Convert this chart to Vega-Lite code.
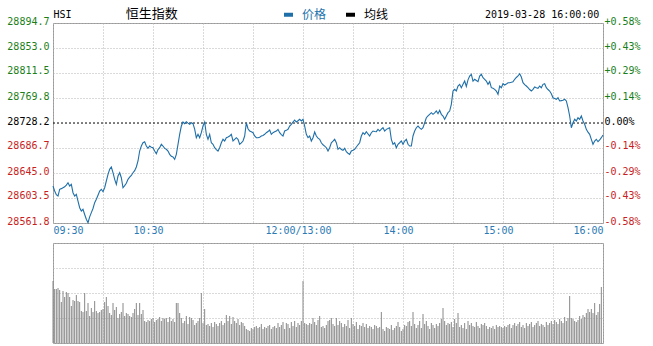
{
"$schema": "https://vega.github.io/schema/vega-lite/v6.json",
"background": "white",
"padding": {"left": 6, "top": 6, "right": 8, "bottom": 4},
"bounds": "flush",
"spacing": 20,
"config": {
  "font": "DejaVu Sans Mono",
  "view": {"stroke": "#999999", "strokeWidth": 1},
  "axis": {"gridColor": "#b4b4b4", "gridDash": [1, 2], "gridWidth": 1, "ticks": false, "domain": false, "labelFont": "DejaVu Sans Mono", "labelFontSize": 10}
},
"datasets": {"d": [
{"t":0,"p":28623.4,"v":62},{"t":1,"p":28615.0,"v":54},{"t":2,"p":28609.0,"v":54},{"t":3,"p":28606.7,"v":55},{"t":4,"p":28617.9,"v":53},{"t":5,"p":28619.0,"v":41},{"t":6,"p":28620.5,"v":52},{"t":7,"p":28622.0,"v":46},{"t":8,"p":28625.0,"v":51},{"t":9,"p":28628.9,"v":50},
{"t":10,"p":28623.4,"v":46},{"t":11,"p":28626.2,"v":37},{"t":12,"p":28612.2,"v":43},{"t":13,"p":28606.7,"v":42},{"t":14,"p":28609.5,"v":48},{"t":15,"p":28598.4,"v":42},{"t":16,"p":28587.2,"v":41},{"t":17,"p":28581.8,"v":32},{"t":18,"p":28584.6,"v":31},{"t":19,"p":28576.0,"v":50},
{"t":20,"p":28568.0,"v":32},{"t":21,"p":28562.3,"v":40},{"t":22,"p":28572.0,"v":27},{"t":23,"p":28579.0,"v":35},{"t":24,"p":28586.0,"v":31},{"t":25,"p":28595.6,"v":42},{"t":26,"p":28601.2,"v":32},{"t":27,"p":28608.0,"v":30},{"t":28,"p":28615.0,"v":31},{"t":29,"p":28617.9,"v":33},
{"t":30,"p":28613.9,"v":34},{"t":31,"p":28620.5,"v":41},{"t":32,"p":28631.7,"v":46},{"t":33,"p":28642.8,"v":37},{"t":34,"p":28651.2,"v":30},{"t":35,"p":28655.0,"v":28},{"t":36,"p":28645.5,"v":40},{"t":37,"p":28634.5,"v":33},{"t":38,"p":28626.2,"v":36},{"t":39,"p":28640.0,"v":25},
{"t":40,"p":28645.5,"v":29},{"t":41,"p":28637.2,"v":31},{"t":42,"p":28620.5,"v":40},{"t":43,"p":28624.0,"v":27},{"t":44,"p":28628.0,"v":30},{"t":45,"p":28634.5,"v":29},{"t":46,"p":28638.0,"v":27},{"t":47,"p":28641.0,"v":26},{"t":48,"p":28645.5,"v":30},{"t":49,"p":28649.0,"v":34},
{"t":50,"p":28655.0,"v":40},{"t":51,"p":28665.0,"v":28},{"t":52,"p":28681.6,"v":40},{"t":53,"p":28690.0,"v":29},{"t":54,"p":28695.4,"v":33},{"t":55,"p":28697.1,"v":22},{"t":56,"p":28689.9,"v":21},{"t":57,"p":28686.1,"v":23},{"t":58,"p":28689.9,"v":22},{"t":59,"p":28688.0,"v":24},
{"t":60,"p":28687.1,"v":25},{"t":61,"p":28681.6,"v":21},{"t":62,"p":28677.1,"v":23},{"t":63,"p":28684.0,"v":24},{"t":64,"p":28687.1,"v":26},{"t":65,"p":28692.8,"v":22},{"t":66,"p":28689.9,"v":25},{"t":67,"p":28686.0,"v":24},{"t":68,"p":28684.5,"v":25},{"t":69,"p":28681.6,"v":21},
{"t":70,"p":28676.1,"v":26},{"t":71,"p":28673.0,"v":22},{"t":72,"p":28671.6,"v":24},{"t":73,"p":28667.8,"v":21},{"t":74,"p":28676.1,"v":40},{"t":75,"p":28692.8,"v":40},{"t":76,"p":28709.4,"v":30},{"t":77,"p":28723.2,"v":25},{"t":78,"p":28729.9,"v":20},{"t":79,"p":28727.1,"v":22},
{"t":80,"p":28730.4,"v":27},{"t":81,"p":28728.0,"v":19},{"t":82,"p":28726.1,"v":26},{"t":83,"p":28728.7,"v":25},{"t":84,"p":28727.1,"v":23},{"t":85,"p":28718.2,"v":18},{"t":86,"p":28703.8,"v":20},{"t":87,"p":28709.4,"v":22},{"t":88,"p":28703.8,"v":25},{"t":89,"p":28712.1,"v":50},
{"t":90,"p":28723.2,"v":20},{"t":91,"p":28729.9,"v":34},{"t":92,"p":28709.4,"v":18},{"t":93,"p":28701.1,"v":19},{"t":94,"p":28709.4,"v":17},{"t":95,"p":28695.4,"v":20},{"t":96,"p":28692.8,"v":16},{"t":97,"p":28687.1,"v":21},{"t":98,"p":28684.0,"v":19},{"t":99,"p":28681.6,"v":17},
{"t":100,"p":28687.1,"v":20},{"t":101,"p":28695.4,"v":22},{"t":102,"p":28701.1,"v":18},{"t":103,"p":28698.3,"v":20},{"t":104,"p":28703.8,"v":28},{"t":105,"p":28705.0,"v":22},{"t":106,"p":28706.6,"v":27},{"t":107,"p":28709.4,"v":19},{"t":108,"p":28698.3,"v":26},{"t":109,"p":28701.0,"v":22},
{"t":110,"p":28703.8,"v":20},{"t":111,"p":28701.1,"v":24},{"t":112,"p":28692.8,"v":18},{"t":113,"p":28695.0,"v":21},{"t":114,"p":28698.3,"v":20},{"t":115,"p":28706.6,"v":17},{"t":116,"p":28728.7,"v":14},{"t":117,"p":28718.7,"v":13},{"t":118,"p":28714.9,"v":12},{"t":119,"p":28713.5,"v":15},
{"t":120,"p":28712.1,"v":14},{"t":121,"p":28706.6,"v":16},{"t":122,"p":28703.8,"v":17},{"t":123,"p":28703.8,"v":15},{"t":124,"p":28704.5,"v":16},{"t":125,"p":28706.6,"v":19},{"t":126,"p":28707.5,"v":14},{"t":127,"p":28709.4,"v":16},{"t":128,"p":28712.1,"v":15},{"t":129,"p":28714.0,"v":17},
{"t":130,"p":28716.6,"v":18},{"t":131,"p":28709.4,"v":14},{"t":132,"p":28712.1,"v":16},{"t":133,"p":28713.5,"v":17},{"t":134,"p":28714.9,"v":15},{"t":135,"p":28717.7,"v":20},{"t":136,"p":28712.1,"v":16},{"t":137,"p":28709.0,"v":18},{"t":138,"p":28706.6,"v":21},{"t":139,"p":28714.9,"v":14},
{"t":140,"p":28716.0,"v":20},{"t":141,"p":28717.7,"v":19},{"t":142,"p":28723.2,"v":15},{"t":143,"p":28726.1,"v":21},{"t":144,"p":28729.9,"v":17},{"t":145,"p":28733.2,"v":22},{"t":146,"p":28729.9,"v":16},{"t":147,"p":28732.0,"v":20},{"t":148,"p":28734.4,"v":18},{"t":149,"p":28731.6,"v":22},
{"t":150,"p":28734.4,"v":62},{"t":151,"p":28723.2,"v":20},{"t":152,"p":28709.4,"v":19},{"t":153,"p":28703.8,"v":18},{"t":154,"p":28706.6,"v":20},{"t":155,"p":28698.3,"v":19},{"t":156,"p":28703.8,"v":25},{"t":157,"p":28713.3,"v":21},{"t":158,"p":28706.6,"v":18},{"t":159,"p":28703.0,"v":23},
{"t":160,"p":28701.1,"v":27},{"t":161,"p":28695.4,"v":16},{"t":162,"p":28692.0,"v":17},{"t":163,"p":28689.9,"v":15},{"t":164,"p":28687.1,"v":18},{"t":165,"p":28681.6,"v":22},{"t":166,"p":28687.1,"v":23},{"t":167,"p":28695.4,"v":25},{"t":168,"p":28698.0,"v":19},{"t":169,"p":28701.1,"v":17},
{"t":170,"p":28695.4,"v":25},{"t":171,"p":28684.5,"v":18},{"t":172,"p":28687.1,"v":22},{"t":173,"p":28684.0,"v":20},{"t":174,"p":28682.8,"v":16},{"t":175,"p":28686.1,"v":19},{"t":176,"p":28680.4,"v":17},{"t":177,"p":28678.0,"v":23},{"t":178,"p":28676.1,"v":15},{"t":179,"p":28681.6,"v":25},
{"t":180,"p":28683.0,"v":19},{"t":181,"p":28684.5,"v":17},{"t":182,"p":28688.3,"v":21},{"t":183,"p":28692.0,"v":14},{"t":184,"p":28695.4,"v":18},{"t":185,"p":28706.6,"v":17},{"t":186,"p":28712.1,"v":20},{"t":187,"p":28709.4,"v":16},{"t":188,"p":28713.8,"v":19},{"t":189,"p":28710.0,"v":15},
{"t":190,"p":28706.6,"v":17},{"t":191,"p":28712.1,"v":16},{"t":192,"p":28714.9,"v":14},{"t":193,"p":28714.0,"v":18},{"t":194,"p":28713.8,"v":17},{"t":195,"p":28717.7,"v":15},{"t":196,"p":28714.9,"v":16},{"t":197,"p":28718.0,"v":31},{"t":198,"p":28720.4,"v":14},{"t":199,"p":28714.9,"v":12},
{"t":200,"p":28717.7,"v":16},{"t":201,"p":28719.0,"v":15},{"t":202,"p":28720.4,"v":14},{"t":203,"p":28701.1,"v":18},{"t":204,"p":28692.8,"v":13},{"t":205,"p":28695.4,"v":15},{"t":206,"p":28687.1,"v":17},{"t":207,"p":28692.8,"v":21},{"t":208,"p":28695.4,"v":16},{"t":209,"p":28698.3,"v":12},
{"t":210,"p":28692.8,"v":14},{"t":211,"p":28698.3,"v":18},{"t":212,"p":28701.1,"v":17},{"t":213,"p":28692.8,"v":21},{"t":214,"p":28689.9,"v":22},{"t":215,"p":28689.9,"v":17},{"t":216,"p":28706.6,"v":31},{"t":217,"p":28715.0,"v":19},{"t":218,"p":28720.4,"v":15},{"t":219,"p":28723.2,"v":18},
{"t":220,"p":28720.0,"v":22},{"t":221,"p":28717.7,"v":15},{"t":222,"p":28720.4,"v":29},{"t":223,"p":28728.7,"v":19},{"t":224,"p":28737.0,"v":22},{"t":225,"p":28740.0,"v":17},{"t":226,"p":28742.7,"v":14},{"t":227,"p":28745.4,"v":20},{"t":228,"p":28742.7,"v":18},{"t":229,"p":28745.0,"v":15},
{"t":230,"p":28748.2,"v":19},{"t":231,"p":28743.7,"v":17},{"t":232,"p":28749.4,"v":20},{"t":233,"p":28742.7,"v":24},{"t":234,"p":28739.9,"v":35},{"t":235,"p":28734.4,"v":22},{"t":236,"p":28739.9,"v":18},{"t":237,"p":28745.4,"v":20},{"t":238,"p":28748.2,"v":19},{"t":239,"p":28759.4,"v":21},
{"t":240,"p":28781.5,"v":16},{"t":241,"p":28784.3,"v":24},{"t":242,"p":28781.5,"v":20},{"t":243,"p":28789.8,"v":30},{"t":244,"p":28792.6,"v":16},{"t":245,"p":28787.0,"v":18},{"t":246,"p":28792.6,"v":15},{"t":247,"p":28798.1,"v":20},{"t":248,"p":28789.0,"v":14},{"t":249,"p":28800.0,"v":22},
{"t":250,"p":28806.5,"v":18},{"t":251,"p":28809.3,"v":20},{"t":252,"p":28798.1,"v":17},{"t":253,"p":28801.0,"v":16},{"t":254,"p":28799.0,"v":21},{"t":255,"p":28797.0,"v":17},{"t":256,"p":28806.5,"v":15},{"t":257,"p":28809.3,"v":19},{"t":258,"p":28803.6,"v":18},{"t":259,"p":28801.0,"v":20},
{"t":260,"p":28798.1,"v":17},{"t":261,"p":28792.6,"v":14},{"t":262,"p":28797.0,"v":16},{"t":263,"p":28787.0,"v":15},{"t":264,"p":28786.0,"v":17},{"t":265,"p":28784.3,"v":14},{"t":266,"p":28781.5,"v":18},{"t":267,"p":28776.0,"v":16},{"t":268,"p":28789.8,"v":17},{"t":269,"p":28787.0,"v":16},
{"t":270,"p":28793.6,"v":15},{"t":271,"p":28791.5,"v":17},{"t":272,"p":28793.0,"v":16},{"t":273,"p":28795.3,"v":18},{"t":274,"p":28795.3,"v":19},{"t":275,"p":28796.0,"v":15},{"t":276,"p":28797.0,"v":18},{"t":277,"p":28801.0,"v":20},{"t":278,"p":28804.0,"v":17},{"t":279,"p":28806.5,"v":19},
{"t":280,"p":28810.3,"v":21},{"t":281,"p":28804.8,"v":16},{"t":282,"p":28795.3,"v":18},{"t":283,"p":28792.0,"v":15},{"t":284,"p":28789.8,"v":20},{"t":285,"p":28787.0,"v":17},{"t":286,"p":28784.0,"v":19},{"t":287,"p":28781.5,"v":21},{"t":288,"p":28784.3,"v":16},{"t":289,"p":28788.2,"v":18},
{"t":290,"p":28787.0,"v":20},{"t":291,"p":28786.0,"v":22},{"t":292,"p":28789.8,"v":17},{"t":293,"p":28787.0,"v":19},{"t":294,"p":28792.6,"v":18},{"t":295,"p":28793.6,"v":16},{"t":296,"p":28787.0,"v":21},{"t":297,"p":28784.0,"v":18},{"t":298,"p":28781.5,"v":20},{"t":299,"p":28777.0,"v":22},
{"t":300,"p":28770.3,"v":19},{"t":301,"p":28769.0,"v":23},{"t":302,"p":28767.7,"v":21},{"t":303,"p":28770.3,"v":19},{"t":304,"p":28764.9,"v":24},{"t":305,"p":28765.5,"v":22},{"t":306,"p":28766.0,"v":20},{"t":307,"p":28767.7,"v":26},{"t":308,"p":28764.9,"v":22},{"t":309,"p":28753.7,"v":25},
{"t":310,"p":28739.9,"v":47},{"t":311,"p":28720.4,"v":25},{"t":312,"p":28728.7,"v":24},{"t":313,"p":28734.4,"v":22},{"t":314,"p":28731.6,"v":21},{"t":315,"p":28737.0,"v":23},{"t":316,"p":28734.4,"v":27},{"t":317,"p":28739.9,"v":24},{"t":318,"p":28731.6,"v":28},{"t":319,"p":28726.1,"v":26},
{"t":320,"p":28717.7,"v":30},{"t":321,"p":28713.0,"v":34},{"t":322,"p":28709.4,"v":31},{"t":323,"p":28701.1,"v":34},{"t":324,"p":28692.8,"v":30},{"t":325,"p":28698.3,"v":40},{"t":326,"p":28701.1,"v":28},{"t":327,"p":28697.1,"v":31},{"t":328,"p":28700.0,"v":39},{"t":329,"p":28703.8,"v":56},
{"t":330,"p":28708.2}
]},
"vconcat": [
{
  "width": 550,
  "height": 200,
  "data": {"name": "d"},
  "layer": [
    {
      "data": {"values": [{"prev": 28728.2}]},
      "mark": {"type": "rule", "color": "#000000", "strokeDash": [2, 2], "strokeWidth": 1},
      "encoding": {
        "y": {"field": "prev", "type": "quantitative", "scale": {"domain": [28561.8, 28894.7], "nice": false, "zero": false}, "axis": null}
      }
    },
    {
      "mark": {"type": "line", "strokeWidth": 1.1},
      "encoding": {
        "x": {"field": "t", "type": "quantitative", "title": null,
          "scale": {"domain": [0, 330], "nice": false, "zero": false},
          "axis": {"orient": "bottom", "values": [0, 30, 60, 90, 120, 150, 180, 210, 240, 270, 300, 330], "grid": true,
            "labelExpr": "datum.value == 0 ? '09:30' : datum.value == 60 ? '10:30' : datum.value == 150 ? '12:00/13:00' : datum.value == 210 ? '14:00' : datum.value == 270 ? '15:00' : datum.value == 330 ? '16:00' : ''",
            "labelColor": "#2a7ab5", "labelFlush": true, "labelOverlap": false, "labelPadding": 2, "labelBaseline": "top",
            "labelOffset": {"expr": "datum.value == 0 || datum.value == 330 ? 0 : -5"}}},
        "y": {"field": "p", "type": "quantitative", "title": null,
          "scale": {"domain": [28561.8, 28894.7], "nice": false, "zero": false},
          "axis": {"orient": "left", "values": [28561.8, 28603.5, 28645.0, 28686.7, 28728.2, 28769.8, 28811.5, 28853.0, 28894.7], "grid": true,
            "labelExpr": "format(datum.value, '.1f')", "labelBaseline": "alphabetic", "labelPadding": 4, "labelOffset": 1, "labelOverlap": false, "labelFlush": false,
            "labelColor": {"expr": "datum.value > 28729 ? '#1a7f1a' : datum.value < 28727 ? '#c81e1e' : '#000000'"},
            "gridOpacity": {"expr": "datum.value == 28728.2 ? 0 : 1"}}},
        "color": {"datum": "价格", "scale": {"domain": ["价格", "均线"], "range": ["#1f6fa8", "#000000"]},
          "legend": {"orient": "none", "legendX": 229, "legendY": -15, "direction": "horizontal", "title": null,
            "labelFont": "Noto Sans CJK SC", "labelFontSize": 12, "symbolType": "stroke", "symbolStrokeWidth": 4, "symbolSize": 81,
            "labelOffset": 7, "columnPadding": 11, "padding": 0,
            "labelColor": {"expr": "datum.label == '价格' ? '#2273ac' : '#000000'"}}}
      }
    },
    {
      "mark": {"type": "line", "opacity": 0},
      "encoding": {
        "x": {"field": "t", "type": "quantitative", "title": null,
          "scale": {"domain": [0, 330], "nice": false, "zero": false},
          "axis": {"orient": "top", "values": [0, 59, 327.5], "grid": false, "labelFlush": false, "labelOverlap": false, "labelBound": false,
            "labelExpr": "datum.value == 0 ? 'HSI' : datum.value == 59 ? '恒生指数' : '2019-03-28 16:00:00'",
            "labelAlign": {"expr": "datum.value == 0 ? 'left' : datum.value == 59 ? 'center' : 'right'"},
            "labelFont": {"expr": "datum.value == 59 ? 'Noto Sans CJK SC' : 'DejaVu Sans Mono'"},
            "labelFontSize": {"expr": "datum.value == 59 ? 13 : 10"},
            "labelColor": "#000000", "labelBaseline": "alphabetic", "labelPadding": 6}},
        "y": {"field": "p", "type": "quantitative", "title": null,
          "scale": {"domain": [28561.8, 28894.7], "nice": false, "zero": false},
          "axis": {"orient": "right", "values": [28561.8, 28603.5, 28645.0, 28686.7, 28728.2, 28769.8, 28811.5, 28853.0, 28894.7], "grid": false,
            "labelExpr": "datum.value == 28728.2 ? '0.00%' : (datum.value > 28728.2 ? '+' : '-') + format(abs(datum.value - 28728.2) / 28728.2 * 100, '.2f') + '%'",
            "labelBaseline": "alphabetic", "labelPadding": 1, "labelOffset": 1, "labelOverlap": false, "labelFlush": false,
            "labelColor": {"expr": "datum.value > 28729 ? '#1a7f1a' : datum.value < 28727 ? '#c81e1e' : '#000000'"}}}
      }
    }
  ],
  "resolve": {"axis": {"x": "independent", "y": "independent"}}
},
{
  "width": 550,
  "height": 100,
  "data": {"name": "d"},
  "mark": {"type": "rule", "color": "#888888", "strokeWidth": 1},
  "encoding": {
    "x": {"field": "t", "type": "quantitative", "title": null,
      "scale": {"domain": [0, 330], "nice": false, "zero": false},
      "axis": {"values": [0, 30, 60, 90, 120, 150, 180, 210, 240, 270, 300, 330], "grid": true, "labels": false}},
    "y": {"field": "v", "type": "quantitative", "title": null,
      "scale": {"domain": [0, 100], "nice": false, "zero": true},
      "axis": {"values": [0, 25, 50, 75, 100], "grid": true, "labels": false}},
    "y2": {"datum": 0}
  }
}
]
}
